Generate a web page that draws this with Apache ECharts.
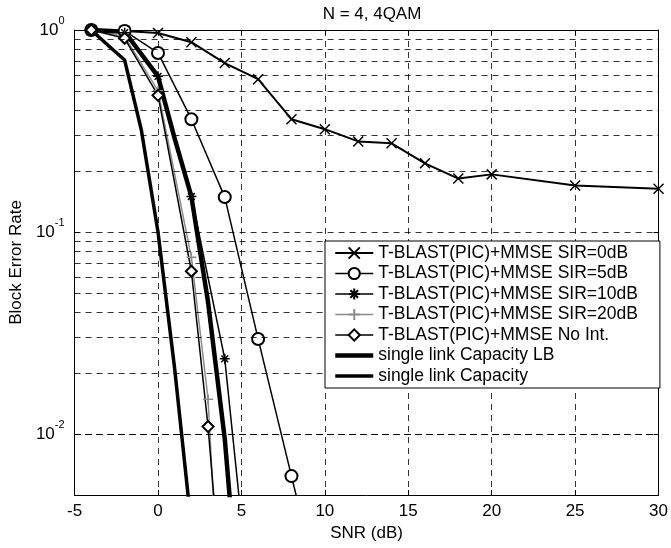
<!DOCTYPE html>
<html>
<head>
<meta charset="utf-8">
<script src="https://cdn.jsdelivr.net/npm/echarts@6/dist/echarts.min.js"></script>
<style>
  html, body { margin: 0; padding: 0; background: #fff; }
  #chart { width: 671px; height: 548px; }
</style>
</head>
<body>
<div id="chart"></div>
<script>
// values (SNR in dB, block error rate)
var snrSir0 = [-4, -2, 0, 2, 4, 6, 8, 10, 12, 14, 16, 18, 20, 25, 30];
var berSir0 = [1, 0.99, 0.966, 0.87, 0.686, 0.571, 0.362, 0.323, 0.281, 0.275, 0.219, 0.184, 0.193, 0.17, 0.164];
var snrSir5 = [-4, -2, 0, 2, 4, 6, 8, 10];
var berSir5 = [1, 0.99, 0.77, 0.362, 0.149, 0.0296, 0.0062, 0.0013];
var snrSir10 = [-4, -2, 0, 2, 4, 6];
var berSir10 = [1, 0.97, 0.59, 0.15, 0.0236, 0.0006];
var snrSir20 = [-4, -2, 0, 2, 3, 4];
var berSir20 = [1, 0.93, 0.5, 0.075, 0.0149, 0.0004];
var snrNoInt = [-4, -2, 0, 2, 3, 4];
var berNoInt = [1, 0.91, 0.475, 0.064, 0.0109, 0.0011];
var snrCapLB = [-4, -2, 0, 1, 2, 3, 4, 5];
var berCapLB = [1, 0.98, 0.59, 0.29, 0.15, 0.045, 0.0095, 0.001];
var snrCap = [-4, -3, -2, -1, 0, 1, 2];
var berCap = [1, 0.84, 0.71, 0.32, 0.1, 0.021, 0.0035];

var seriesNames = [
  'T-BLAST(PIC)+MMSE SIR=0dB',
  'T-BLAST(PIC)+MMSE SIR=5dB',
  'T-BLAST(PIC)+MMSE SIR=10dB',
  'T-BLAST(PIC)+MMSE SIR=20dB',
  'T-BLAST(PIC)+MMSE No Int.',
  'single link Capacity LB',
  'single link Capacity'
];

// x ticks every 5 dB, dashed grid at every 1..9 x 10^k
var xMin = -5, xMax = 30, xStep = 5;
var yMin = 0.005, yMax = 1;
var yGridValues = [0.006, 0.007, 0.008, 0.009, 0.01, 0.02, 0.03, 0.04, 0.05, 0.06, 0.07, 0.08, 0.09,
  0.1, 0.2, 0.3, 0.4, 0.5, 0.6, 0.7, 0.8, 0.9];

var FONT = 'Liberation Sans, Arial, Helvetica, sans-serif';

function pairs(xs, ys) {
  return xs.map(function (x, i) { return [x, ys[i]]; });
}

var symX = 'path://M0,0L10,10M10,0L0,10';
var symStar = 'path://M5,0L5,10M0,5L10,5M1.6,1.6L8.4,8.4M8.4,1.6L1.6,8.4';
var symPlus = 'path://M5,0L5,10M0,5L10,5';
var symNone = 'path://M0,0L10,10'; // drawn with no stroke/fill: legend icon stays a plain line

function curve(name, xs, ys, color, width, symbol, size) {
  var empty = symbol === 'emptyCircle' || symbol === 'emptyDiamond';
  var plain = symbol === symNone;
  return {
    name: name,
    type: 'line',
    data: pairs(xs, ys),
    symbol: symbol,
    symbolSize: size,
    showSymbol: !plain,
    lineStyle: { color: color, width: width },
    itemStyle: {
      color: empty ? color : 'none',
      borderColor: plain ? 'none' : color,
      borderWidth: plain ? 0 : 1.5
    },
    emphasis: { disabled: true },
    animation: false
  };
}

var chart = echarts.init(document.getElementById('chart'));

var series = [
  curve(seriesNames[0], snrSir0, berSir0, '#000', 2, symX, 10),
  curve(seriesNames[1], snrSir5, berSir5, '#000', 1.5, 'emptyCircle', 12),
  curve(seriesNames[2], snrSir10, berSir10, '#000', 1.5, symStar, 10),
  curve(seriesNames[3], snrSir20, berSir20, '#8c8c8c', 1.5, symPlus, 10),
  curve(seriesNames[4], snrNoInt, berNoInt, '#000', 1.5, 'emptyDiamond', 11),
  curve(seriesNames[5], snrCapLB, berCapLB, '#000', 4.5, symNone, 10),
  curve(seriesNames[6], snrCap, berCap, '#000', 3.5, symNone, 10)
];

// horizontal dashed grid lines
series[0].markLine = {
  silent: true,
  symbol: 'none',
  label: { show: false },
  lineStyle: { color: '#000', type: [6, 5], width: 0.8 },
  data: yGridValues.map(function (v) { return { yAxis: v }; })
};

var legendData = series.map(function (s) {
  return { name: s.name, lineStyle: { width: s.lineStyle.width, color: s.lineStyle.color } };
});

var option = {
  backgroundColor: '#fff',
  animation: false,
  textStyle: { fontFamily: FONT, color: '#000' },
  title: {
    text: 'N = 4, 4QAM',
    left: 367,
    top: 1,
    textAlign: 'center',
    textStyle: { fontFamily: FONT, fontSize: 17, fontWeight: 'normal', color: '#000' }
  },
  grid: { left: 71, right: 9, top: 30, bottom: 53, containLabel: false },
  legend: {
    orient: 'vertical',
    left: 325,
    top: 241,
    z: 20,
    data: legendData,
    backgroundColor: '#fff',
    borderColor: '#000',
    borderWidth: 1,
    padding: [3, 22, 3, 8],
    itemWidth: 38,
    itemHeight: 14,
    itemGap: 2.5,
    textStyle: { fontFamily: FONT, fontSize: 17.5, color: '#000' },
    selectedMode: false
  },
  xAxis: [{
    type: 'value',
    min: xMin, max: xMax, interval: xStep,
    name: 'SNR (dB)',
    nameLocation: 'middle',
    nameGap: 30,
    nameTextStyle: { fontFamily: FONT, fontSize: 17, color: '#000' },
    axisLine: { show: true, onZero: false, lineStyle: { color: '#000', width: 1 } },
    axisTick: { show: true, inside: true, length: 5, lineStyle: { color: '#000' } },
    axisLabel: { fontFamily: FONT, fontSize: 17, color: '#000', margin: 8 },
    splitLine: { show: true, lineStyle: { color: '#000', type: [6, 5], width: 0.8 } }
  }, {
    type: 'value',
    position: 'top',
    min: xMin, max: xMax, interval: xStep,
    axisLine: { show: true, onZero: false, lineStyle: { color: '#000', width: 1 } },
    axisTick: { show: true, inside: true, length: 5, lineStyle: { color: '#000' } },
    axisLabel: { show: false },
    splitLine: { show: false }
  }],
  yAxis: [{
    type: 'log',
    logBase: 10,
    min: yMin, max: yMax,
    name: 'Block Error Rate',
    nameLocation: 'middle',
    nameGap: 31,
    nameTextStyle: { fontFamily: FONT, fontSize: 17, color: '#000' },
    axisLine: { show: true, onZero: false, lineStyle: { color: '#000', width: 1 } },
    axisTick: { show: true, inside: true, length: 5, lineStyle: { color: '#000' } },
    axisLabel: {
      margin: 10,
      formatter: function (v) {
        var l = Math.log10(v);
        var e = Math.round(l);
        if (Math.abs(l - e) > 1e-6) return '';
        return '{b|10}{s|' + e + '}';
      },
      rich: {
        b: { fontFamily: FONT, fontSize: 17, color: '#000' },
        s: { fontFamily: FONT, fontSize: 11, color: '#000', padding: [0, 0, 18, 0] }
      }
    },
    splitLine: { show: false }
  }, {
    type: 'log',
    logBase: 10,
    min: yMin, max: yMax,
    position: 'right',
    axisLine: { show: true, onZero: false, lineStyle: { color: '#000', width: 1 } },
    axisTick: { show: true, inside: true, length: 5, lineStyle: { color: '#000' } },
    axisLabel: { show: false },
    splitLine: { show: false }
  }],
  series: series
};

chart.setOption(option);
</script>
</body>
</html>
